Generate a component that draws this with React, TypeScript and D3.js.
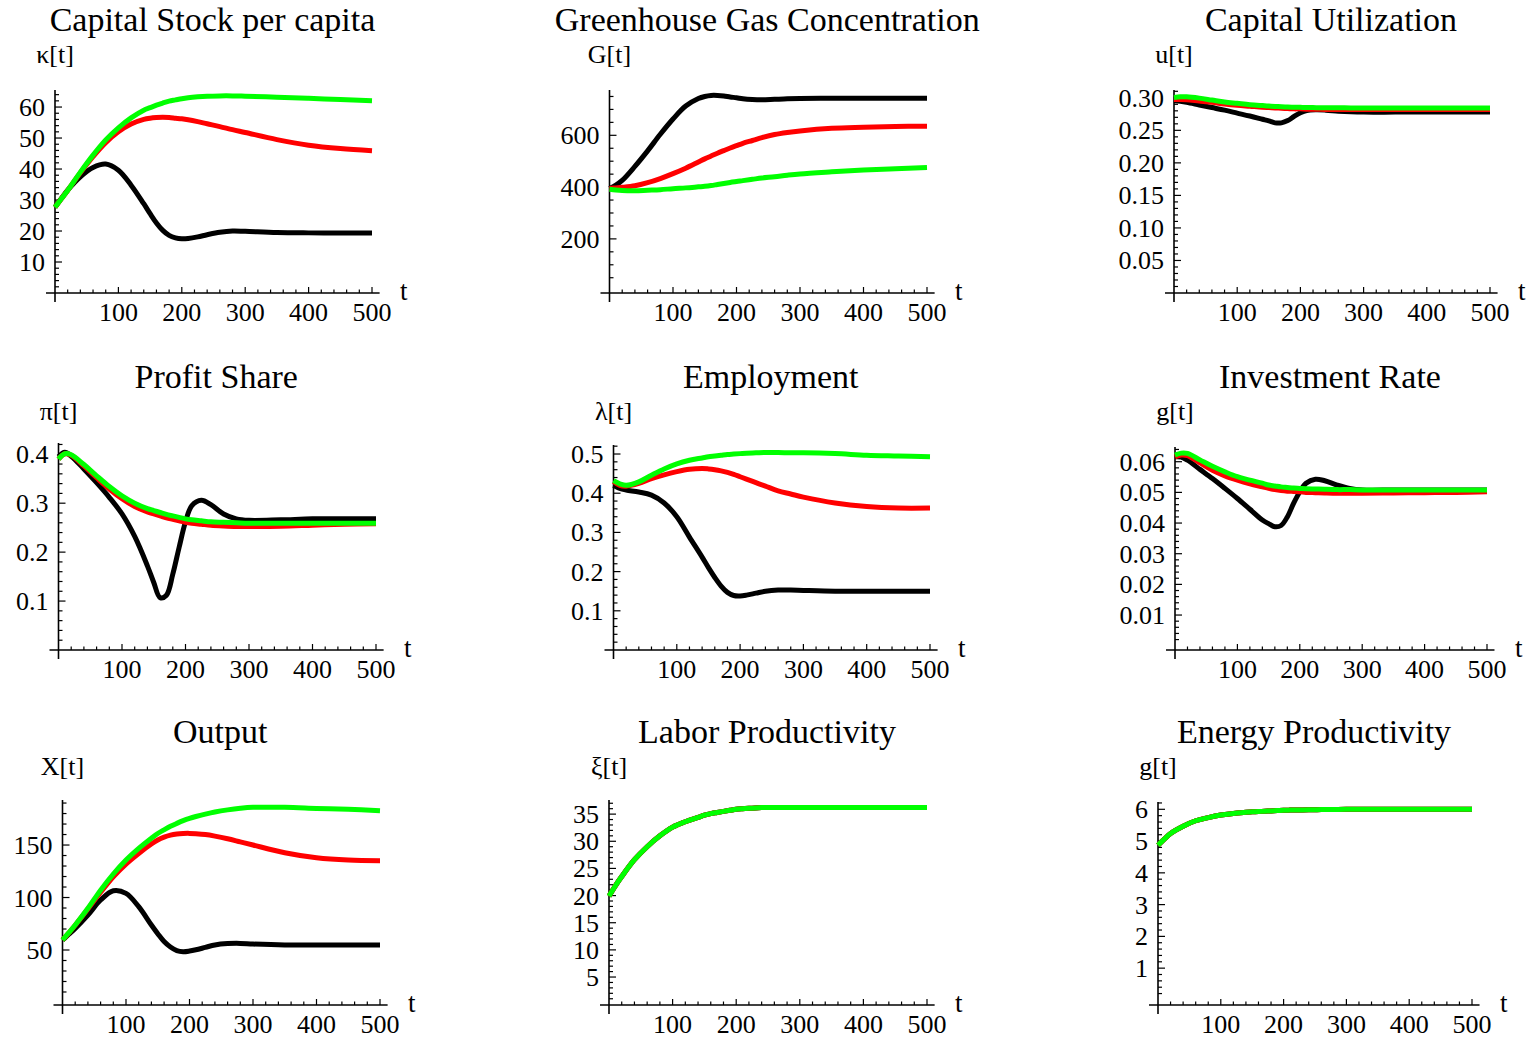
import * as d3 from "d3";

// time points (shared by every series)
const T = [0, 10, 20, 40, 60, 80, 100, 120, 140, 150, 160, 170, 180, 190, 200, 210, 225, 240, 260, 280, 300, 350, 400, 450, 500];

// Capital stock per capita
const kappaBlack = [27.7, 30.5, 33.2, 37.5, 40.5, 41.6, 39.6, 34.8, 28.8, 25.6, 22.6, 20.2, 18.6, 17.8, 17.5, 17.6, 18.1, 18.8, 19.6, 20.0, 19.9, 19.5, 19.4, 19.4, 19.4];
const kappaRed = [27.7, 30.4, 33.1, 38.8, 44.0, 48.5, 52.0, 54.5, 56.0, 56.4, 56.6, 56.7, 56.6, 56.4, 56.2, 55.9, 55.3, 54.6, 53.7, 52.7, 51.8, 49.5, 47.7, 46.6, 45.9];
const kappaGreen = [27.7, 30.4, 33.1, 39.0, 44.5, 49.4, 53.3, 56.5, 59.0, 59.8, 60.6, 61.3, 61.9, 62.3, 62.7, 63.0, 63.3, 63.5, 63.6, 63.6, 63.5, 63.2, 62.8, 62.4, 62.0];

// Greenhouse gas concentration
const ghgBlack = [395, 408, 426, 480, 540, 604, 663, 713, 742, 750, 754, 754, 752, 748, 745, 741, 738, 737, 739, 741, 742, 743, 743, 743, 743];
const ghgRed = [395, 397, 399, 405, 417, 433, 452, 473, 497, 509, 520, 531, 541, 551, 560, 569, 580, 591, 603, 611, 617, 627, 631, 634, 635];
const ghgGreen = [392, 389, 387, 386, 388, 390, 394, 397, 401, 403, 406, 410, 414, 418, 422, 425, 430, 435, 440, 446, 451, 459, 466, 471, 476];

// Capital utilization
const utilBlack = [0.2955, 0.2945, 0.293, 0.289, 0.285, 0.281, 0.2765, 0.272, 0.267, 0.2645, 0.2615, 0.2615, 0.265, 0.2715, 0.277, 0.2805, 0.2815, 0.281, 0.2795, 0.2785, 0.278, 0.278, 0.278, 0.278, 0.278];
const utilRed = [0.2975, 0.2975, 0.297, 0.295, 0.293, 0.2905, 0.2885, 0.287, 0.2855, 0.285, 0.2845, 0.284, 0.2835, 0.283, 0.283, 0.2825, 0.2825, 0.282, 0.282, 0.282, 0.282, 0.282, 0.282, 0.282, 0.282];
const utilGreen = [0.3005, 0.3015, 0.3015, 0.2995, 0.2965, 0.2935, 0.2915, 0.2895, 0.288, 0.2873, 0.2867, 0.2862, 0.2858, 0.2855, 0.2853, 0.2851, 0.2849, 0.2847, 0.2846, 0.2845, 0.2845, 0.2845, 0.2845, 0.2845, 0.2845];

// Profit share
const profitBlack = [0.395, 0.404, 0.396, 0.37, 0.342, 0.312, 0.278, 0.232, 0.172, 0.138, 0.107, 0.112, 0.155, 0.21, 0.262, 0.295, 0.306, 0.297, 0.278, 0.268, 0.265, 0.266, 0.268, 0.268, 0.268];
const profitRed = [0.39, 0.401, 0.398, 0.376, 0.352, 0.329, 0.309, 0.293, 0.282, 0.278, 0.274, 0.27, 0.267, 0.264, 0.261, 0.259, 0.257, 0.255, 0.2535, 0.2525, 0.2525, 0.253, 0.255, 0.257, 0.258];
const profitGreen = [0.39, 0.401, 0.399, 0.379, 0.356, 0.334, 0.315, 0.3, 0.289, 0.285, 0.281, 0.277, 0.274, 0.271, 0.268, 0.266, 0.264, 0.262, 0.261, 0.26, 0.259, 0.259, 0.259, 0.259, 0.259];

// Employment
const emplBlack = [0.42, 0.412, 0.408, 0.403, 0.395, 0.375, 0.34, 0.288, 0.237, 0.21, 0.185, 0.163, 0.147, 0.139, 0.138, 0.14, 0.145, 0.15, 0.153, 0.153, 0.152, 0.15, 0.15, 0.15, 0.15];
const emplRed = [0.43, 0.42, 0.418, 0.425, 0.437, 0.447, 0.455, 0.461, 0.463, 0.462, 0.46, 0.457, 0.453, 0.448, 0.442, 0.436, 0.427, 0.418, 0.406, 0.398, 0.39, 0.375, 0.366, 0.362, 0.362];
const emplGreen = [0.432, 0.424, 0.42, 0.429, 0.446, 0.462, 0.475, 0.484, 0.49, 0.493, 0.495, 0.497, 0.499, 0.5, 0.501, 0.502, 0.503, 0.504, 0.504, 0.503, 0.503, 0.501, 0.497, 0.495, 0.493];

// Investment rate
const investBlack = [0.0616, 0.0615, 0.0605, 0.0575, 0.0545, 0.0513, 0.048, 0.0445, 0.041, 0.0398, 0.0388, 0.0392, 0.042, 0.0464, 0.0502, 0.053, 0.0543, 0.0538, 0.0524, 0.0513, 0.0508, 0.0508, 0.0508, 0.0508, 0.0508];
const investRed = [0.0616, 0.0622, 0.062, 0.0596, 0.0572, 0.0554, 0.054, 0.0528, 0.0518, 0.0513, 0.0509, 0.0506, 0.0504, 0.0503, 0.0502, 0.05, 0.0499, 0.0498, 0.0497, 0.0497, 0.0497, 0.0498, 0.0499, 0.05, 0.0502];
const investGreen = [0.0622, 0.0628, 0.0627, 0.0606, 0.0585, 0.0567, 0.0551, 0.054, 0.053, 0.0524, 0.0521, 0.0518, 0.0516, 0.0514, 0.0513, 0.0512, 0.0511, 0.051, 0.0509, 0.0509, 0.0508, 0.0508, 0.0508, 0.0508, 0.0508];

// Output
const outputBlack = [59.5, 65, 70.6, 83.3, 97.6, 106.5, 104, 91.3, 73.8, 65.5, 58, 52.8, 49.4, 48.4, 49, 50.2, 52.5, 54.8, 56.1, 56.3, 55.7, 54.8, 54.8, 54.8, 54.8];
const outputRed = [59.5, 66.4, 73.6, 89, 105, 119.8, 131.9, 142, 151, 154.8, 157.5, 159.4, 160.5, 161, 161.1, 160.8, 160, 158.5, 156, 153, 150, 142.7, 137.9, 135.7, 135.1];
const outputGreen = [59.5, 66.5, 73.8, 89.7, 107, 122.4, 135.7, 146.8, 156.5, 161, 164.5, 167.8, 170.6, 173.2, 175.4, 177.2, 179.5, 181.5, 183.5, 185, 185.9, 185.9, 184.9, 184, 182.7];

// Labor productivity (the three runs overlap)
const laborBlack = [19.9, 21.8, 23.5, 26.6, 29, 31, 32.6, 33.6, 34.4, 34.8, 35.1, 35.3, 35.5, 35.7, 35.9, 36.0, 36.1, 36.2, 36.2, 36.2, 36.2, 36.2, 36.2, 36.2, 36.2];
const laborRed = [19.9, 21.8, 23.5, 26.6, 29, 31, 32.6, 33.6, 34.4, 34.8, 35.1, 35.3, 35.5, 35.7, 35.9, 36.0, 36.1, 36.2, 36.2, 36.2, 36.2, 36.2, 36.2, 36.2, 36.2];
const laborGreen = [19.9, 21.8, 23.5, 26.6, 29, 31, 32.6, 33.6, 34.4, 34.8, 35.1, 35.3, 35.5, 35.7, 35.9, 36.0, 36.1, 36.2, 36.2, 36.2, 36.2, 36.2, 36.2, 36.2, 36.2];

// Energy productivity (the three runs overlap)
const energyBlack = [4.87, 5.06, 5.24, 5.47, 5.64, 5.74, 5.82, 5.87, 5.91, 5.92, 5.93, 5.94, 5.95, 5.96, 5.97, 5.975, 5.98, 5.985, 5.99, 5.995, 6.0, 6.0, 6.0, 6.0, 6.0];
const energyRed = [4.87, 5.06, 5.24, 5.47, 5.64, 5.74, 5.82, 5.87, 5.91, 5.92, 5.93, 5.94, 5.95, 5.96, 5.97, 5.975, 5.98, 5.985, 5.99, 5.995, 6.0, 6.0, 6.0, 6.0, 6.0];
const energyGreen = [4.87, 5.06, 5.24, 5.47, 5.64, 5.74, 5.82, 5.87, 5.91, 5.92, 5.93, 5.94, 5.95, 5.96, 5.97, 5.975, 5.98, 5.985, 5.99, 5.995, 6.0, 6.0, 6.0, 6.0, 6.0];

// tick labels
const xTicks = [100, 200, 300, 400, 500];
const kappaTicks = [10, 20, 30, 40, 50, 60];
const ghgTicks = [200, 400, 600];
const utilTicks = [0.05, 0.1, 0.15, 0.2, 0.25, 0.3];
const profitTicks = [0.1, 0.2, 0.3, 0.4];
const emplTicks = [0.1, 0.2, 0.3, 0.4, 0.5];
const investTicks = [0.01, 0.02, 0.03, 0.04, 0.05, 0.06];
const outputTicks = [50, 100, 150];
const laborTicks = [5, 10, 15, 20, 25, 30, 35];
const energyTicks = [1, 2, 3, 4, 5, 6];

const COLORS = ["#000000", "#ff0000", "#00ff00"];
const FONT = "'Liberation Serif', 'Times New Roman', serif";

const panels = [
  { title: "Capital Stock per capita", label: "κ[t]", series: [kappaBlack, kappaRed, kappaGreen], ticks: kappaTicks, minor: 2, digits: 0, x0: 55, x1: 372, y0: 293, yTop: 90, dom: [0, 65.5] },
  { title: "Greenhouse Gas Concentration", label: "G[t]", series: [ghgBlack, ghgRed, ghgGreen], ticks: ghgTicks, minor: 50, digits: 0, x0: 609.5, x1: 927, y0: 293, yTop: 90, dom: [-9, 775] },
  { title: "Capital Utilization", label: "u[t]", series: [utilBlack, utilRed, utilGreen], ticks: utilTicks, minor: 0.01, digits: 2, x0: 1174, x1: 1490, y0: 293, yTop: 90, dom: [0, 0.312] },
  { title: "Profit Share", label: "π[t]", series: [profitBlack, profitRed, profitGreen], ticks: profitTicks, minor: 0.02, digits: 1, x0: 58.5, x1: 376, y0: 650, yTop: 443, dom: [0, 0.423] },
  { title: "Employment", label: "λ[t]", series: [emplBlack, emplRed, emplGreen], ticks: emplTicks, minor: 0.02, digits: 1, x0: 613.5, x1: 930, y0: 650, yTop: 445, dom: [0, 0.523] },
  { title: "Investment Rate", label: "g[t]", series: [investBlack, investRed, investGreen], ticks: investTicks, minor: 0.002, digits: 2, x0: 1175, x1: 1487, y0: 650, yTop: 447, dom: [-0.0014, 0.0648] },
  { title: "Output", label: "X[t]", series: [outputBlack, outputRed, outputGreen], ticks: outputTicks, minor: 10, digits: 0, x0: 62.5, x1: 380, y0: 1005, yTop: 800, dom: [-2.4, 192.9] },
  { title: "Labor Productivity", label: "ξ[t]", series: [laborBlack, laborRed, laborGreen], ticks: laborTicks, minor: 1, digits: 0, x0: 609, x1: 927, y0: 1005, yTop: 800, dom: [-0.15, 37.6] },
  { title: "Energy Productivity", label: "g[t]", series: [energyBlack, energyRed, energyGreen], ticks: energyTicks, minor: 0.2, digits: 0, x0: 1158, x1: 1472, y0: 1005, yTop: 802, dom: [-0.16, 6.23] },
];

function Panel({ p }) {
  const x = d3.scaleLinear([0, 500], [p.x0, p.x1]);
  const y = d3.scaleLinear(p.dom, [p.y0, p.yTop]);
  const line = d3.line<number>()
    .x((d, i) => x(T[i]))
    .y(d => y(d))
    .curve(d3.curveCatmullRom.alpha(0.5));

  // minor ticks along the y axis
  const nMinor = Math.floor(p.dom[1] / p.minor + 1e-6);
  const yMinor = d3.range(1, nMinor + 1).map(i => i * p.minor);
  const isMajor = v => p.ticks.some(t => Math.abs(t - v) < p.minor / 10);
  const xMinor = d3.range(20, 501, 20);

  return (
    <g>
      <text x={(p.x0 + p.x1) / 2 - 1} y={p.y0 - 262} textAnchor="middle" fontSize={34}>{p.title}</text>
      <text x={p.x0} y={p.y0 - 230} textAnchor="middle" fontSize={26}>{p.label}</text>

      {/* axes */}
      <line x1={p.x0 - 9} x2={x(512)} y1={p.y0} y2={p.y0} stroke="#000" strokeWidth={1.6} />
      <line x1={p.x0} x2={p.x0} y1={p.y0 + 9} y2={p.yTop} stroke="#000" strokeWidth={1.6} />

      {xMinor.map(t => (
        <line key={"xt" + t} x1={x(t)} x2={x(t)} y1={p.y0} y2={p.y0 - (t % 100 === 0 ? 6 : 3.5)} stroke="#000" strokeWidth={1.2} />
      ))}
      {xTicks.map(t => (
        <text key={"xl" + t} x={x(t)} y={p.y0 + 28} textAnchor="middle" fontSize={26}>{t}</text>
      ))}
      <text x={p.x1 + 28} y={p.y0 + 7} fontSize={27}>t</text>

      {yMinor.map(v => (
        <line key={"yt" + v} x1={p.x0} x2={p.x0 + (isMajor(v) ? 7 : 4)} y1={y(v)} y2={y(v)} stroke="#000" strokeWidth={1.2} />
      ))}
      {p.ticks.map(v => (
        <text key={"yl" + v} x={p.x0 - 10} y={y(v) + 9} textAnchor="end" fontSize={26}>{v.toFixed(p.digits)}</text>
      ))}

      {/* curves: black, red, green on top */}
      {p.series.map((s, i) => (
        <path key={i} d={line(s)} fill="none" stroke={COLORS[i]} strokeWidth={5} strokeLinejoin="round" />
      ))}
    </g>
  );
}

export default function App() {
  return (
    <svg width={1530} height={1039} style={{ position: "absolute", left: 0, top: 0, background: "#fff" }} fontFamily={FONT}>
      <rect width={1530} height={1039} fill="#fff" />
      {panels.map((p, i) => <Panel key={i} p={p} />)}
    </svg>
  );
}
